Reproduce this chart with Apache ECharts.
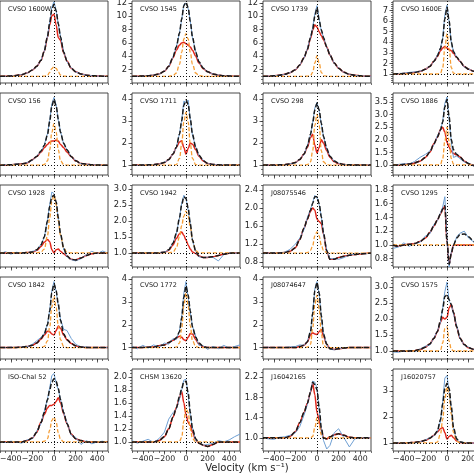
<!DOCTYPE html>
<html><head><meta charset="utf-8">
<script src="https://cdn.jsdelivr.net/npm/echarts@6/dist/echarts.min.js"></script>
<style>html,body{margin:0;padding:0;background:#fff}#c{width:474px;height:474px}</style>
</head><body><div id="c"></div>
<script>
// Velocity grid (km/s)
const velocity = [-500,-450,-400,-350,-300,-250,-200,-160,-120,-90,-60,-40,-20,0,20,40,60,90,120,160,200,250,300,350,400,450,500];

const names = ['CVSO 1600W','CVSO 1545','CVSO 1739','CVSO 1600E',
  'CVSO 156','CVSO 1711','CVSO 298','CVSO 1886',
  'CVSO 1928','CVSO 1942','J08075546','CVSO 1295',
  'CVSO 1842','CVSO 1772','J08074647','CVSO 1575',
  'ISO-ChaI 52','CHSM 13620','J16042165','J16020757'];

const yMin = [0,0,0,0.15, 0.55,0.55,0.55,0.6, 0.56,0.56,0.69,0.68, 0.5,0.5,0.5,0.75, 0.86,0.86,0.74,0.69];
const yMax = [12.3,12.3,12.3,7.9, 4.3,4.27,4.27,3.86, 3.12,3.12,2.51,1.87, 4.1,4.1,4.1,3.31, 2.12,2.12,2.36,3.85];
const yTicks = [
  [2,4,6,8,10,12],[2,4,6,8,10,12],[2,4,6,8,10,12],[1,2,3,4,5,6,7],
  [1,2,3,4],[1,2,3,4],[1,2,3,4],[1.0,1.5,2.0,2.5,3.0,3.5],
  [1.0,1.5,2.0,2.5,3.0],[1.0,1.5,2.0,2.5,3.0],[0.8,1.2,1.6,2.0,2.4],[0.8,1.0,1.2,1.4,1.6,1.8],
  [1,2,3,4],[1,2,3,4],[1,2,3,4],[1.0,1.5,2.0,2.5,3.0],
  [1.0,1.2,1.4,1.6,1.8,2.0],[1.0,1.2,1.4,1.6,1.8,2.0],[1.0,1.4,1.8,2.2],[1,2,3]];
const yMinorStep = [0.5,0.5,0.5,0.2, 0.2,0.2,0.2,0.1, 0.1,0.1,0.1,0.05, 0.2,0.2,0.2,0.1, 0.05,0.05,0.1,0.2];
const yDecimals = [0,0,0,0, 0,0,0,1, 1,1,1,1, 0,0,0,1, 1,1,1,0];
const xTicks = [-400,-200,0,200,400];

const fitData = [
 [1.0,1.02,1.06,1.12,1.25,1.5,1.95,2.5,3.4,4.8,7.0,9.0,11.0,11.8,10.8,8.9,6.9,4.6,3.3,2.2,1.7,1.35,1.18,1.1,1.05,1.02,1.0],
 [1.0,1.02,1.05,1.1,1.18,1.35,1.75,2.5,3.9,5.4,7.5,9.6,11.6,12.1,11.3,9.2,6.9,4.6,3.2,2.2,1.7,1.35,1.18,1.1,1.05,1.02,1.0],
 [1.0,1.03,1.08,1.15,1.3,1.55,2.0,2.7,3.8,5.0,6.8,8.1,10.0,11.3,9.4,8.0,6.8,5.4,4.2,3.0,2.2,1.6,1.3,1.15,1.08,1.03,1.0],
 [1.0,1.02,1.05,1.09,1.15,1.25,1.45,1.7,2.2,2.7,3.4,4.3,6.2,7.3,6.0,4.0,3.1,2.6,2.2,1.7,1.45,1.25,1.15,1.09,1.05,1.02,1.0],
 [1.0,1.01,1.02,1.04,1.06,1.1,1.25,1.4,1.65,1.9,2.4,3.0,3.7,4.0,3.7,3.1,2.5,2.0,1.7,1.4,1.2,1.08,1.04,1.02,1.01,1.0,1.0],
 [1.0,1.0,1.0,1.01,1.02,1.05,1.12,1.25,1.5,1.8,2.4,3.0,3.7,3.95,3.75,3.1,2.4,1.8,1.45,1.2,1.08,1.03,1.01,1.0,1.0,1.0,1.0],
 [1.0,1.0,1.0,1.01,1.02,1.05,1.12,1.25,1.5,1.85,2.4,2.9,3.5,3.8,3.5,2.9,2.3,1.75,1.4,1.18,1.08,1.03,1.01,1.0,1.0,1.0,1.0],
 [1.0,1.0,1.02,1.04,1.08,1.15,1.3,1.5,1.85,2.1,2.4,2.7,3.3,3.6,2.9,2.0,1.6,1.42,1.32,1.15,1.05,0.98,0.96,0.97,0.98,0.99,1.0],
 [1.0,1.0,1.0,1.0,1.0,1.01,1.03,1.1,1.25,1.5,2.0,2.45,2.75,2.8,2.6,2.1,1.6,1.15,0.9,0.8,0.78,0.84,0.92,0.97,1.0,1.0,1.0],
 [1.0,1.0,1.0,1.0,1.0,1.0,1.02,1.1,1.3,1.6,2.1,2.5,2.75,2.7,2.4,1.9,1.4,1.05,0.9,0.86,0.86,0.88,0.92,0.96,0.99,1.0,1.0],
 [1.0,1.0,1.0,1.0,1.01,1.04,1.12,1.3,1.55,1.75,1.95,2.1,2.25,2.25,2.1,1.8,1.45,1.05,0.86,0.86,0.9,0.93,0.95,0.97,0.98,0.99,1.0],
 [1.0,0.98,1.0,1.01,1.02,1.05,1.1,1.18,1.28,1.36,1.45,1.52,1.57,1.05,0.72,0.88,1.0,1.1,1.15,1.16,1.12,1.05,1.0,0.99,1.0,1.0,1.0],
 [1.0,1.0,1.0,1.01,1.02,1.05,1.1,1.2,1.4,1.6,2.0,2.6,3.4,3.8,3.5,2.9,2.2,1.6,1.35,1.18,1.08,1.03,1.01,1.0,1.0,1.0,1.0],
 [1.0,1.0,1.01,1.02,1.03,1.08,1.12,1.22,1.32,1.42,1.7,2.3,3.2,3.7,3.3,2.6,1.9,1.45,1.2,1.05,1.0,1.0,1.0,1.0,1.0,1.0,1.0],
 [1.0,1.0,1.0,1.0,1.0,1.0,1.0,1.05,1.1,1.25,1.7,2.5,3.5,3.85,3.4,2.4,1.6,1.15,0.95,0.92,0.95,0.98,1.0,1.0,1.0,1.0,1.0],
 [1.0,1.0,1.0,1.0,1.01,1.05,1.12,1.22,1.4,1.6,1.95,2.3,2.7,2.75,2.6,2.45,2.2,1.75,1.4,1.2,1.1,1.05,1.02,1.01,1.0,1.0,1.0],
 [1.0,1.0,1.0,1.0,1.0,1.02,1.06,1.15,1.3,1.45,1.65,1.8,1.92,1.97,1.93,1.82,1.65,1.45,1.28,1.12,1.05,1.02,1.0,1.0,1.0,1.0,1.0],
 [1.0,1.0,1.0,1.0,1.0,1.02,1.08,1.2,1.38,1.52,1.7,1.82,1.92,1.93,1.75,1.45,1.2,1.05,0.98,0.95,0.93,0.96,1.0,1.0,1.0,1.0,1.0],
 [1.0,1.0,1.0,1.0,1.0,1.03,1.12,1.3,1.5,1.68,1.9,2.1,2.05,1.95,1.6,1.2,1.0,0.98,1.02,1.06,1.08,1.05,1.01,1.0,1.0,1.0,1.0],
 [1.0,1.0,1.0,1.01,1.02,1.05,1.1,1.18,1.3,1.45,1.9,2.5,3.1,3.3,3.1,2.4,1.6,1.15,1.05,1.0,1.0,1.0,1.0,1.0,1.0,1.0,1.0]
];

const broadData = [
 [1.0,1.02,1.06,1.12,1.25,1.5,1.95,2.5,3.4,4.75,6.9,8.7,10.1,10.3,8.7,6.8,6.4,4.5,3.3,2.2,1.7,1.35,1.18,1.1,1.05,1.02,1.0],
 [1.0,1.02,1.05,1.1,1.18,1.35,1.75,2.5,3.8,4.9,5.7,6.0,6.1,5.9,5.7,5.4,4.9,4.0,3.0,2.15,1.7,1.35,1.18,1.1,1.05,1.02,1.0],
 [1.0,1.03,1.08,1.15,1.3,1.55,2.0,2.7,3.8,5.0,6.7,7.9,8.7,8.4,7.7,7.1,6.5,5.4,4.2,3.0,2.2,1.6,1.3,1.15,1.08,1.03,1.0],
 [1.0,1.02,1.05,1.09,1.15,1.25,1.45,1.7,2.2,2.65,3.2,3.45,3.6,3.45,3.3,3.2,2.95,2.55,2.2,1.7,1.45,1.25,1.15,1.09,1.05,1.02,1.0],
 [1.0,1.01,1.02,1.04,1.06,1.1,1.25,1.4,1.6,1.8,1.95,2.05,2.1,2.1,2.15,2.1,1.95,1.8,1.6,1.38,1.2,1.08,1.04,1.02,1.01,1.0,1.0],
 [1.0,1.0,1.0,1.01,1.02,1.05,1.12,1.25,1.5,1.8,2.05,2.1,1.8,1.5,1.75,2.0,1.95,1.7,1.4,1.18,1.07,1.03,1.01,1.0,1.0,1.0,1.0],
 [1.0,1.0,1.0,1.01,1.02,1.05,1.12,1.25,1.5,1.8,2.25,2.4,1.9,1.55,1.8,2.15,2.0,1.65,1.35,1.15,1.06,1.03,1.01,1.0,1.0,1.0,1.0],
 [1.0,1.0,1.02,1.04,1.08,1.15,1.3,1.5,1.85,2.1,2.4,2.5,2.3,1.9,1.7,1.55,1.45,1.4,1.32,1.15,1.05,0.98,0.96,0.97,0.98,0.99,1.0],
 [1.0,1.0,1.0,1.0,1.0,1.01,1.02,1.08,1.2,1.33,1.42,1.35,1.1,1.0,1.1,1.12,1.05,0.97,0.9,0.8,0.78,0.84,0.92,0.97,1.0,1.0,1.0],
 [1.0,1.0,1.0,1.0,1.0,1.0,1.02,1.08,1.25,1.45,1.6,1.65,1.55,1.4,1.25,1.12,1.03,0.98,0.9,0.86,0.86,0.88,0.92,0.96,0.99,1.0,1.0],
 [1.0,1.0,1.0,1.0,1.01,1.04,1.12,1.3,1.55,1.75,1.93,2.0,1.95,1.75,1.7,1.65,1.42,1.05,0.86,0.86,0.9,0.93,0.95,0.97,0.98,0.99,1.0],
 [1.0,0.98,1.0,1.01,1.02,1.05,1.1,1.18,1.28,1.36,1.45,1.52,1.56,1.05,0.72,0.88,1.0,1.0,1.0,1.0,1.0,1.0,1.0,1.0,1.0,1.0,1.0],
 [1.0,1.0,1.0,1.01,1.02,1.05,1.1,1.2,1.38,1.55,1.72,1.7,1.6,1.55,1.75,1.95,1.85,1.55,1.35,1.18,1.08,1.03,1.01,1.0,1.0,1.0,1.0],
 [1.0,1.0,1.01,1.02,1.03,1.08,1.12,1.22,1.32,1.42,1.5,1.45,1.35,1.3,1.45,1.62,1.6,1.35,1.15,1.03,1.0,1.0,1.0,1.0,1.0,1.0,1.0],
 [1.0,1.0,1.0,1.0,1.0,1.0,1.0,1.05,1.1,1.25,1.55,1.65,1.6,1.58,1.7,1.8,1.5,1.15,0.95,0.92,0.95,0.98,1.0,1.0,1.0,1.0,1.0],
 [1.0,1.0,1.0,1.0,1.01,1.05,1.12,1.22,1.4,1.6,1.9,2.05,2.0,2.05,2.35,2.45,2.2,1.75,1.4,1.2,1.1,1.05,1.02,1.01,1.0,1.0,1.0],
 [1.0,1.0,1.0,1.0,1.0,1.02,1.06,1.15,1.3,1.42,1.52,1.56,1.56,1.58,1.62,1.68,1.6,1.43,1.28,1.12,1.05,1.02,1.0,1.0,1.0,1.0,1.0],
 [1.0,1.0,1.0,1.0,1.0,1.02,1.08,1.2,1.38,1.52,1.68,1.78,1.6,1.42,1.3,1.25,1.15,1.03,0.98,0.95,0.93,0.96,1.0,1.0,1.0,1.0,1.0],
 [1.0,1.0,1.0,1.0,1.0,1.03,1.12,1.3,1.5,1.68,1.9,2.08,1.85,1.5,1.35,1.15,1.0,0.98,1.02,1.06,1.08,1.05,1.01,1.0,1.0,1.0,1.0],
 [1.0,1.0,1.0,1.01,1.02,1.05,1.1,1.18,1.3,1.42,1.55,1.6,1.4,1.15,1.25,1.3,1.2,1.08,1.02,1.0,1.0,1.0,1.0,1.0,1.0,1.0,1.0]
];

const narrowData = [
 [1,1,1,1,1,1,1,1,1,1.03,1.15,1.6,2.15,2.45,2.2,1.65,1.2,1.03,1,1,1,1,1,1,1,1,1],
 [1,1,1,1,1,1,1,1,1.1,1.5,2.8,4.6,6.6,7.4,6.6,4.6,2.8,1.5,1.1,1,1,1,1,1,1,1,1],
 [1,1,1,1,1,1,1,1,1,1.02,1.12,1.6,3.0,4.1,3.0,1.6,1.12,1.02,1,1,1,1,1,1,1,1,1],
 [1,1,1,1,1,1,1,1,1,1,1.08,1.6,3.4,4.8,3.4,1.6,1.08,1,1,1,1,1,1,1,1,1,1],
 [1,1,1,1,1,1,1,1,1,1.03,1.2,1.7,2.5,2.9,2.5,1.7,1.2,1.03,1,1,1,1,1,1,1,1,1],
 [1,1,1,1,1,1,1,1,1,1.02,1.3,1.95,2.95,3.4,2.95,1.95,1.3,1.02,1,1,1,1,1,1,1,1,1],
 [1,1,1,1,1,1,1,1,1,1.02,1.15,1.65,2.8,3.3,2.8,1.65,1.15,1.02,1,1,1,1,1,1,1,1,1],
 [1,1,1,1,1,1,1,1,1,1,1.03,1.25,1.95,2.5,1.95,1.25,1.03,1,1,1,1,1,1,1,1,1,1],
 [1,1,1,1,1,1,1,1,1.03,1.12,1.55,2.1,2.6,2.8,2.5,2.0,1.55,1.15,1.02,1,1,1,1,1,1,1,1],
 [1,1,1,1,1,1,1,1,1.03,1.15,1.5,1.85,2.15,2.3,2.15,1.8,1.4,1.07,1,1,1,1,1,1,1,1,1],
 [1,1,1,1,1,1,1,1,1,1.01,1.06,1.17,1.38,1.47,1.38,1.17,1.06,1.01,1,1,1,1,1,1,1,1,1],
 [1,1,1,1,1,1,1,1,1,1,1,1,1,1,1,1,1,1,1,1,1,1,1,1,1,1,1],
 [1,1,1,1,1,1,1,1,1,1.05,1.3,1.9,2.8,3.25,2.75,1.95,1.35,1.05,1,1,1,1,1,1,1,1,1],
 [1,1,1,1,1,1,1,1,1,1.02,1.2,1.85,2.85,3.4,2.85,1.95,1.3,1.05,1,1,1,1,1,1,1,1,1],
 [1,1,1,1,1,1,1,1,1,1.02,1.15,1.85,2.9,3.3,2.7,1.6,1.1,1,1,1,1,1,1,1,1,1,1],
 [1,1,1,1,1,1,1,1,1,1,1.03,1.25,1.7,1.75,1.3,1.05,1,1,1,1,1,1,1,1,1,1,1],
 [1,1,1,1,1,1,1,1,1,1.01,1.05,1.18,1.33,1.38,1.3,1.14,1.04,1,1,1,1,1,1,1,1,1,1],
 [1,1,1,1,1,1,1,1,1,1,1.01,1.07,1.32,1.52,1.45,1.2,1.05,1,1,1,1,1,1,1,1,1,1],
 [1,1,1,1,1,1,1,1,1,1,1,1.03,1.2,1.4,1.25,1.06,1,1,1,1,1,1,1,1,1,1,1],
 [1,1,1,1,1,1,1,1,1,1.03,1.35,1.9,2.7,3.15,2.85,2.1,1.4,1.07,1,1,1,1,1,1,1,1,1]
];

const obsData = [
 [1.01,1.0,1.07,1.1,1.27,1.48,1.97,2.45,3.45,4.8,7.1,9.1,11.4,12.2,10.9,8.8,7.0,4.7,3.2,2.25,1.68,1.37,1.16,1.12,1.04,1.03,0.99],
 [1.02,1.0,1.04,1.12,1.2,1.33,1.78,2.48,3.95,5.35,7.6,9.5,11.8,12.0,11.2,9.3,6.8,4.7,3.15,2.25,1.68,1.36,1.2,1.08,1.06,1.0,1.01],
 [1.0,1.04,1.07,1.17,1.28,1.57,1.98,2.72,3.75,5.1,6.9,8.3,10.4,11.6,9.6,7.8,6.9,5.3,4.25,2.95,2.25,1.58,1.32,1.13,1.1,1.02,1.01],
 [1.02,1.05,1.08,1.15,1.2,1.27,1.43,1.75,2.15,2.75,3.5,4.4,6.6,7.5,5.9,3.9,3.2,2.55,2.25,1.65,1.48,1.22,1.17,1.06,1.07,1.0,1.02],
 [0.98,1.03,1.01,1.06,1.04,1.12,1.22,1.43,1.62,1.93,2.45,3.05,3.8,4.1,3.75,3.05,2.55,1.95,1.72,1.38,1.22,1.06,1.05,1.0,1.03,0.99,1.01],
 [1.01,0.99,1.02,1.0,1.03,1.04,1.14,1.23,1.52,1.78,2.45,3.05,3.9,3.85,3.95,3.05,2.35,1.82,1.43,1.22,1.06,1.04,0.99,1.02,1.0,1.01,0.99],
 [1.0,1.01,0.99,1.02,1.01,1.06,1.1,1.27,1.48,1.87,2.38,2.95,3.6,3.85,3.45,2.85,2.32,1.72,1.42,1.17,1.09,1.02,1.02,0.99,1.0,1.01,1.0],
 [0.97,1.02,1.05,1.03,1.14,1.3,1.42,1.55,1.8,2.15,2.38,2.75,3.45,3.7,2.8,1.9,1.3,1.35,1.25,1.12,1.08,0.95,0.98,0.96,1.0,0.98,1.0],
 [0.97,1.04,0.96,1.02,1.0,0.98,1.05,1.08,1.27,1.48,2.05,2.5,2.9,2.85,2.55,2.05,1.58,1.12,0.88,0.79,0.75,0.82,0.95,1.05,0.98,1.06,0.99],
 [1.01,0.99,1.0,1.01,0.99,1.01,1.03,1.09,1.32,1.58,2.1,2.55,2.8,2.7,2.35,1.92,1.38,1.06,0.88,0.85,0.87,0.86,0.75,0.95,1.0,0.99,1.01],
 [0.98,1.0,1.01,0.99,1.02,1.08,1.2,1.33,1.52,1.78,1.97,2.12,2.28,2.22,2.08,1.82,1.43,1.08,0.87,0.88,0.86,0.9,0.96,0.97,0.99,0.98,1.0],
 [0.95,0.97,1.03,0.98,1.02,1.04,1.13,1.16,1.3,1.35,1.47,1.55,1.7,1.1,0.68,0.9,0.98,1.12,1.17,1.2,1.1,1.04,1.0,0.98,1.01,1.0,1.0],
 [1.01,0.99,1.02,1.0,1.03,1.04,1.15,1.3,1.45,1.62,2.05,2.65,3.5,3.9,3.45,2.85,2.25,1.8,1.75,1.4,1.15,1.02,1.03,0.99,1.01,1.0,1.0],
 [1.05,0.95,1.1,0.98,1.12,1.02,1.2,1.15,1.4,1.35,1.75,2.35,3.4,3.9,3.2,2.55,1.95,1.5,1.1,1.08,0.92,1.05,0.95,1.1,0.97,1.05,1.12],
 [1.0,1.02,0.99,1.01,1.0,1.03,1.05,1.12,1.1,1.28,1.72,2.55,3.6,3.9,3.35,2.35,1.62,1.12,0.93,0.9,0.96,0.99,1.01,0.99,1.0,1.01,1.0],
 [0.97,0.96,1.0,1.02,0.98,1.06,1.15,1.18,1.42,1.62,1.9,2.35,2.85,3.15,2.55,2.45,2.15,1.8,1.4,1.18,1.12,1.04,1.03,1.0,1.0,1.0,1.0],
 [1.0,0.99,1.01,1.0,0.98,1.03,1.05,1.17,1.28,1.47,1.66,1.83,2.02,2.05,1.9,1.8,1.66,1.44,1.3,1.1,1.07,0.96,1.02,0.97,1.0,1.01,0.99],
 [1.02,0.98,1.01,1.04,0.99,1.05,1.15,1.35,1.45,1.5,1.66,1.8,1.95,1.96,1.72,1.4,1.22,1.02,1.0,0.95,0.96,0.98,1.02,1.0,1.03,1.08,1.12],
 [1.0,0.98,0.97,1.01,1.02,1.05,1.1,1.22,1.45,1.65,1.92,2.12,2.1,1.98,1.55,1.15,0.95,0.78,0.85,1.1,1.18,1.0,0.82,0.98,1.0,1.0,1.0],
 [1.0,1.01,0.99,1.02,1.0,1.04,1.12,1.2,1.28,1.43,1.85,2.6,3.5,3.6,2.95,2.3,1.55,1.12,1.03,1.02,0.99,1.0,1.01,1.0,1.0,1.0,1.0]
];

// ---- layout ----
const colLeft = [0, 132, 263, 393];
const rowTop = [1, 93, 185, 277, 369];
const PW = 108, PH = 82;
const FONT = 'DejaVu Sans';
const AX = '#333';

function multiples(lo, hi, step) {
  const out = [];
  for (let k = Math.ceil(lo / step - 1e-9); k * step <= hi + 1e-9; k++) out.push(+(k * step).toFixed(4));
  return out;
}
const xMinor = multiples(-500, 500, 50);

const grid = [], xAxis = [], yAxis = [], series = [], graphic = [];
for (let i = 0; i < 20; i++) {
  const r = Math.floor(i / 4), c = i % 4;
  grid.push({left: colLeft[c], top: rowTop[r], width: PW, height: PH, show: true,
    outerBoundsMode: 'none', containLabel: false,
    borderColor: AX, borderWidth: 0.9, backgroundColor: 'transparent'});
  const bottomRow = r === 4;
  xAxis.push({type: 'value', gridIndex: i, min: -500, max: 500, position: 'bottom',
    axisLine: {show: false, onZero: false}, splitLine: {show: false},
    axisTick: {show: true, customValues: xMinor, length: 2, lineStyle: {color: AX, width: 0.7}},
    axisLabel: {show: false}});
  xAxis.push({type: 'value', gridIndex: i, min: -500, max: 500, position: 'bottom',
    axisLine: {show: false, onZero: false}, splitLine: {show: false},
    axisTick: {show: true, customValues: xTicks, length: 3.5, lineStyle: {color: AX, width: 0.8}},
    axisLabel: {show: bottomRow, customValues: xTicks, interval: 0, margin: 4, fontFamily: FONT, fontSize: 7.8, color: '#222',
      showMinLabel: true, showMaxLabel: true, hideOverlap: false,
      formatter: v => String(v).replace('-', '\u2212')}});
  const yMinor = multiples(yMin[i], yMax[i], yMinorStep[i]);
  const dec = yDecimals[i];
  yAxis.push({type: 'value', gridIndex: i, min: yMin[i], max: yMax[i], position: 'left',
    axisLine: {show: false, onZero: false}, splitLine: {show: false},
    axisTick: {show: true, customValues: yMinor, length: 2, lineStyle: {color: AX, width: 0.7}},
    axisLabel: {show: false}});
  yAxis.push({type: 'value', gridIndex: i, min: yMin[i], max: yMax[i], position: 'left',
    axisLine: {show: false, onZero: false}, splitLine: {show: false},
    axisTick: {show: true, customValues: yTicks[i], length: 3.5, lineStyle: {color: AX, width: 0.8}},
    axisLabel: {show: true, customValues: yTicks[i], interval: 0, margin: 5, fontFamily: FONT, fontSize: 8.3, color: '#222',
      showMinLabel: true, showMaxLabel: true, hideOverlap: false,
      formatter: v => Number(v).toFixed(dec)}});
  const xi = 2 * i, yi = 2 * i;
  const pts = arr => velocity.map((v, k) => [v, arr[k]]);
  series.push({type: 'line', xAxisIndex: xi, yAxisIndex: yi, data: pts(broadData[i]), showSymbol: false,
    smooth: 0.3, smoothMonotone: 'x', z: 2, lineStyle: {color: '#e1281d', width: 1.5}});
  series.push({type: 'line', xAxisIndex: xi, yAxisIndex: yi, data: pts(obsData[i]), showSymbol: false,
    z: 3, lineStyle: {color: '#6e9fd3', width: 1.0}});
  series.push({type: 'line', xAxisIndex: xi, yAxisIndex: yi, data: pts(narrowData[i]), showSymbol: false,
    smooth: 0.4, smoothMonotone: 'x', z: 4, lineStyle: {color: '#f59d35', width: 1.3, type: [4, 2]}});
  series.push({type: 'line', xAxisIndex: xi, yAxisIndex: yi, data: pts(fitData[i]), showSymbol: false,
    smooth: 0.3, smoothMonotone: 'x', z: 5, lineStyle: {color: '#1a1a1a', width: 1.5, type: [5, 2.2]},
    markLine: {silent: true, symbol: 'none', label: {show: false}, animation: false,
      lineStyle: {color: '#111', width: 1, type: [1, 2]},
      data: [{xAxis: 0}, {yAxis: 1}]}});
  graphic.push({type: 'text', left: colLeft[c] + 8, top: rowTop[r] + 5,
    style: {text: names[i], fontFamily: FONT, fontSize: 6.5, fill: '#222'}});
}
graphic.push({type: 'text', x: 247, y: 468,
  style: {text: 'Velocity (km s\u207B\u00B9)', fontFamily: FONT, fontSize: 10, fill: '#222',
    textAlign: 'center', textVerticalAlign: 'middle'}});

const chart = echarts.init(document.getElementById('c'), null, {renderer: 'canvas'});
chart.setOption({animation: false, grid, xAxis, yAxis, series, graphic});
</script>
</body></html>
